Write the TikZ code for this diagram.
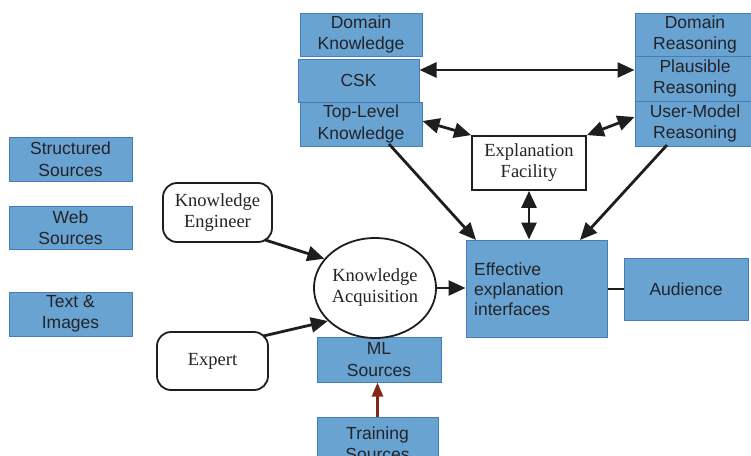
\documentclass[tikz,border=0pt]{standalone}
\usepackage{fontspec}
\setmainfont{Liberation Serif}
\setsansfont{Liberation Sans}
\usetikzlibrary{arrows.meta,shapes.geometric}
\definecolor{bfill}{RGB}{104,163,210}
\definecolor{bdraw}{RGB}{70,125,185}
\definecolor{txt}{RGB}{35,35,40}
\definecolor{lin}{RGB}{30,30,30}
\definecolor{dred}{RGB}{130,40,25}
\begin{document}
\begin{tikzpicture}[x=1pt,y=-1pt,
  bluebox/.style={draw=bdraw,fill=bfill,line width=1pt,inner sep=0pt,text=txt,
    font=\sffamily\fontsize{17.5}{21.5}\selectfont,align=center},
  whitebox/.style={draw=lin,line width=1.8pt,fill=white,inner sep=0pt,text=txt,
    font=\fontsize{18.5}{21}\selectfont,align=center},
  conn/.style={draw=lin,line width=2.8pt},
  tip/.style={-{Triangle[length=17pt,width=15pt]}},
  tips/.style={{Triangle[length=17pt,width=15pt]}-{Triangle[length=17pt,width=15pt]}}
]
\useasboundingbox (0,0) rectangle (751,455);
\newcommand{\bbox}[6]{\node[bluebox,minimum width=#4,minimum height=#5] (#1) at (#2,#3) {#6};}
\bbox{dk}{361}{34.5}{122}{43}{Domain\\Knowledge}
\bbox{csk}{358.5}{80.5}{121}{43}{CSK}
\bbox{tlk}{361}{124}{122}{44}{Top-Level\\Knowledge}
\bbox{dr}{695}{34.5}{120}{43}{Domain\\Reasoning}
\bbox{pr}{695}{78.5}{120}{45}{Plausible\\Reasoning}
\bbox{umr}{695}{123.5}{120}{45}{User-Model\\Reasoning}
\bbox{ss}{70.5}{159}{123}{44}{Structured\\Sources}
\bbox{ws}{70.5}{227.5}{123}{43}{Web\\Sources}
\bbox{ti}{70.5}{314}{123}{44}{Text \&\\Images}
\bbox{ml}{379}{359.5}{124}{45}{ML\\Sources}
\node[bluebox,minimum width=121,minimum height=52,anchor=north] (ts) at (377.5,417) {Training\\Sources};
\node[bluebox,minimum width=124,minimum height=62] (aud) at (686,289) {Audience};
\node[bluebox,minimum width=141,minimum height=97] (eff) at (536.5,288.5) {};
\node[text=txt,font=\sffamily\fontsize{17.5}{20}\selectfont,align=left,anchor=west,inner sep=0pt] (efftxt) at (474,289) {Effective\\explanation\\interfaces};
\node[whitebox,minimum width=114,minimum height=54] (ef) at (529,163) {Explanation\\Facility};
\node[whitebox,rounded corners=14pt,minimum width=109,minimum height=59] (ke) at (217.5,212.5) {Knowledge\\Engineer};
\node[whitebox,rounded corners=14pt,minimum width=111,minimum height=58] (ex) at (212.5,361) {Expert};
\node[whitebox,ellipse,minimum width=116,minimum height=100,inner sep=0pt] (ka) at (375,288) {Knowledge\\Acquisition};
\draw[conn,tips] (csk.east|-0,70) -- (pr.west|-0,70);
\draw[conn,tips] (tlk.east|-0,121) -- (ef.north west);
\draw[conn,tips] (umr.west|-0,117) -- (ef.north east);
\draw[conn,tips] (ef.south) -- (ef.south|-eff.north);
\coordinate (tlkb) at (389,144);
\coordinate (effa) at (476,240);
\coordinate (umrb) at (667,145);
\coordinate (effb) at (580,240);
\draw[conn,tip] (tlkb) -- (effa);
\draw[conn,tip] (umrb) -- (effb);
\draw[conn,tip] (ke.south east) ++(-8,-3) coordinate (kes) -- (ka.150);
\draw[conn,tip] (ex.north east) ++(-6,5) coordinate (exs) -- (ka.215);
\draw[conn,tip] (ka.east) -- (eff.west|-ka.east);
\draw[conn,line width=2pt] (eff.east|-aud.west) -- (aud.west);
\draw[draw=dred,line width=2.4pt,-{Triangle[length=14pt,width=11pt]}] (ts.north) -- (ml.south-|ts.north);
\end{tikzpicture}
\end{document}
